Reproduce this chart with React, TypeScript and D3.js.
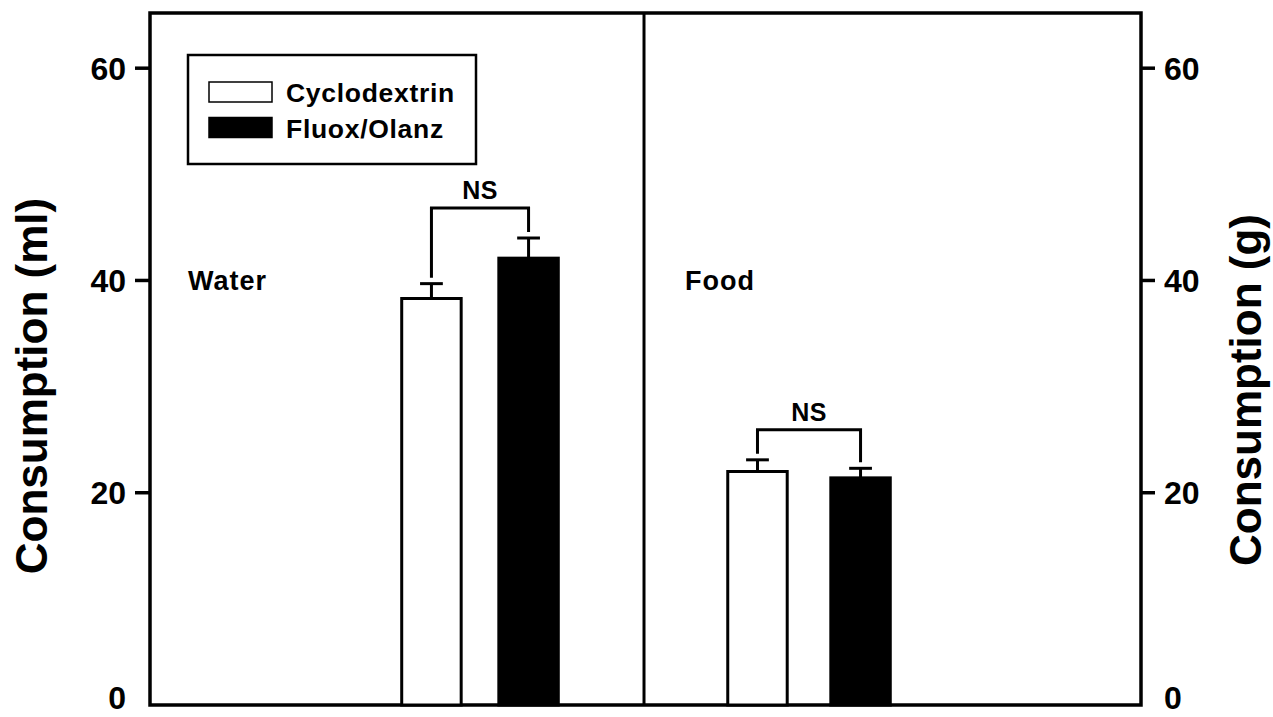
import React from "react";
import * as d3 from "d3";

const groups = ["Water", "Food"];
const groupPos = [33.3, 66.5];
const series = ["Cyclodextrin", "Fluox/Olanz"];
const seriesFill = ["#ffffff", "#000000"];
const means = [
  [38.3, 42.1],
  [22.0, 21.4],
];
const errs = [
  [1.4, 1.9],
  [1.1, 0.9],
];
const yTicks = [0, 20, 40, 60];
const sigLabels = ["NS", "NS"];

const W = 1273;
const H = 717;
const left = 150;
const right = 1141;
const top = 13;
const bottom = 705;
const font = "'Liberation Sans', Arial, Helvetica, sans-serif";

export default function App() {
  const y = d3.scaleLinear().domain([0, 65.2]).range([bottom, top]);
  const x = d3.scaleLinear().domain([0, 100]).range([left, right]);
  const groupOffsets = [[-4.9, 4.9], [-5.2, 5.2]];
  const barW = x(6) - x(0);
  const capW = x(2.3) - x(0);
  const divX = x(49.85);
  const labelY = (t: number) => Math.min(y(t) + 11.5, 709);

  return (
    <svg width={W} height={H} style={{ position: "absolute", left: 0, top: 0 }}>
      <rect x={0} y={0} width={W} height={H} fill="#fff" />
      {/* frame */}
      <rect x={left} y={top} width={right - left} height={bottom - top} fill="none" stroke="#000" strokeWidth={3.5} />
      <line x1={divX} x2={divX} y1={top} y2={bottom} stroke="#000" strokeWidth={3} />
      {/* ticks */}
      {yTicks.map((t) => (
        <g key={t}>
          {t > 0 && <line x1={left - 15} x2={left} y1={y(t)} y2={y(t)} stroke="#000" strokeWidth={3.5} />}
          {t > 0 && <line x1={right} x2={right + 14} y1={y(t)} y2={y(t)} stroke="#000" strokeWidth={3.5} />}
          <text x={126} y={labelY(t)} textAnchor="end" fontFamily={font} fontWeight="bold" fontSize={32}>{t}</text>
          <text x={1164} y={labelY(t)} textAnchor="start" fontFamily={font} fontWeight="bold" fontSize={32}>{t}</text>
        </g>
      ))}
      {/* axis titles */}
      <text transform={`translate(47,386) rotate(-90)`} textAnchor="middle" fontFamily={font} fontWeight="bold" fontSize={44}>Consumption (ml)</text>
      <text transform={`translate(1261,390) rotate(-90)`} textAnchor="middle" fontFamily={font} fontWeight="bold" fontSize={44}>Consumption (g)</text>
      {/* group labels */}
      <text x={188} y={290} fontFamily={font} fontWeight="bold" fontSize={27} letterSpacing={1}>Water</text>
      <text x={685} y={290} fontFamily={font} fontWeight="bold" fontSize={27} letterSpacing={1}>Food</text>
      {/* bars */}
      {groups.map((g, gi) => {
        const cxs = series.map((_, si) => x(groupPos[gi] + groupOffsets[gi][si]));
        const tops = series.map((_, si) => y(means[gi][si] + errs[gi][si]));
        const bracketTop = Math.min(...tops) - 30;
        return (
          <g key={g}>
            {series.map((s, si) => {
              const cx = cxs[si];
              const m = means[gi][si];
              const e = errs[gi][si];
              return (
                <g key={s}>
                  <line x1={cx} x2={cx} y1={y(m)} y2={y(m + e)} stroke="#000" strokeWidth={3} />
                  <line x1={cx - capW / 2} x2={cx + capW / 2} y1={y(m + e)} y2={y(m + e)} stroke="#000" strokeWidth={3} />
                  <rect x={cx - barW / 2} y={y(m)} width={barW} height={bottom - y(m)} fill={seriesFill[si]} stroke="#000" strokeWidth={3} />
                </g>
              );
            })}
            <path
              d={`M${cxs[0]},${tops[0] - 6}V${bracketTop}H${cxs[1]}V${tops[1] - 6}`}
              fill="none"
              stroke="#000"
              strokeWidth={3}
            />
            <text x={(cxs[0] + cxs[1]) / 2} y={bracketTop - 9} textAnchor="middle" fontFamily={font} fontWeight="bold" fontSize={25} letterSpacing={0.5}>{sigLabels[gi]}</text>
          </g>
        );
      })}
      {/* legend */}
      <rect x={188} y={55} width={288} height={109} fill="#fff" stroke="#000" strokeWidth={2.5} />
      {series.map((s, si) => (
        <g key={s}>
          <rect x={209} y={82 + si * 35.5} width={63} height={20} fill={seriesFill[si]} stroke="#000" strokeWidth={1.5} />
          <text x={286} y={102 + si * 35.5} fontFamily={font} fontWeight="bold" fontSize={26.5} letterSpacing={0.7}>{s}</text>
        </g>
      ))}
    </svg>
  );
}
